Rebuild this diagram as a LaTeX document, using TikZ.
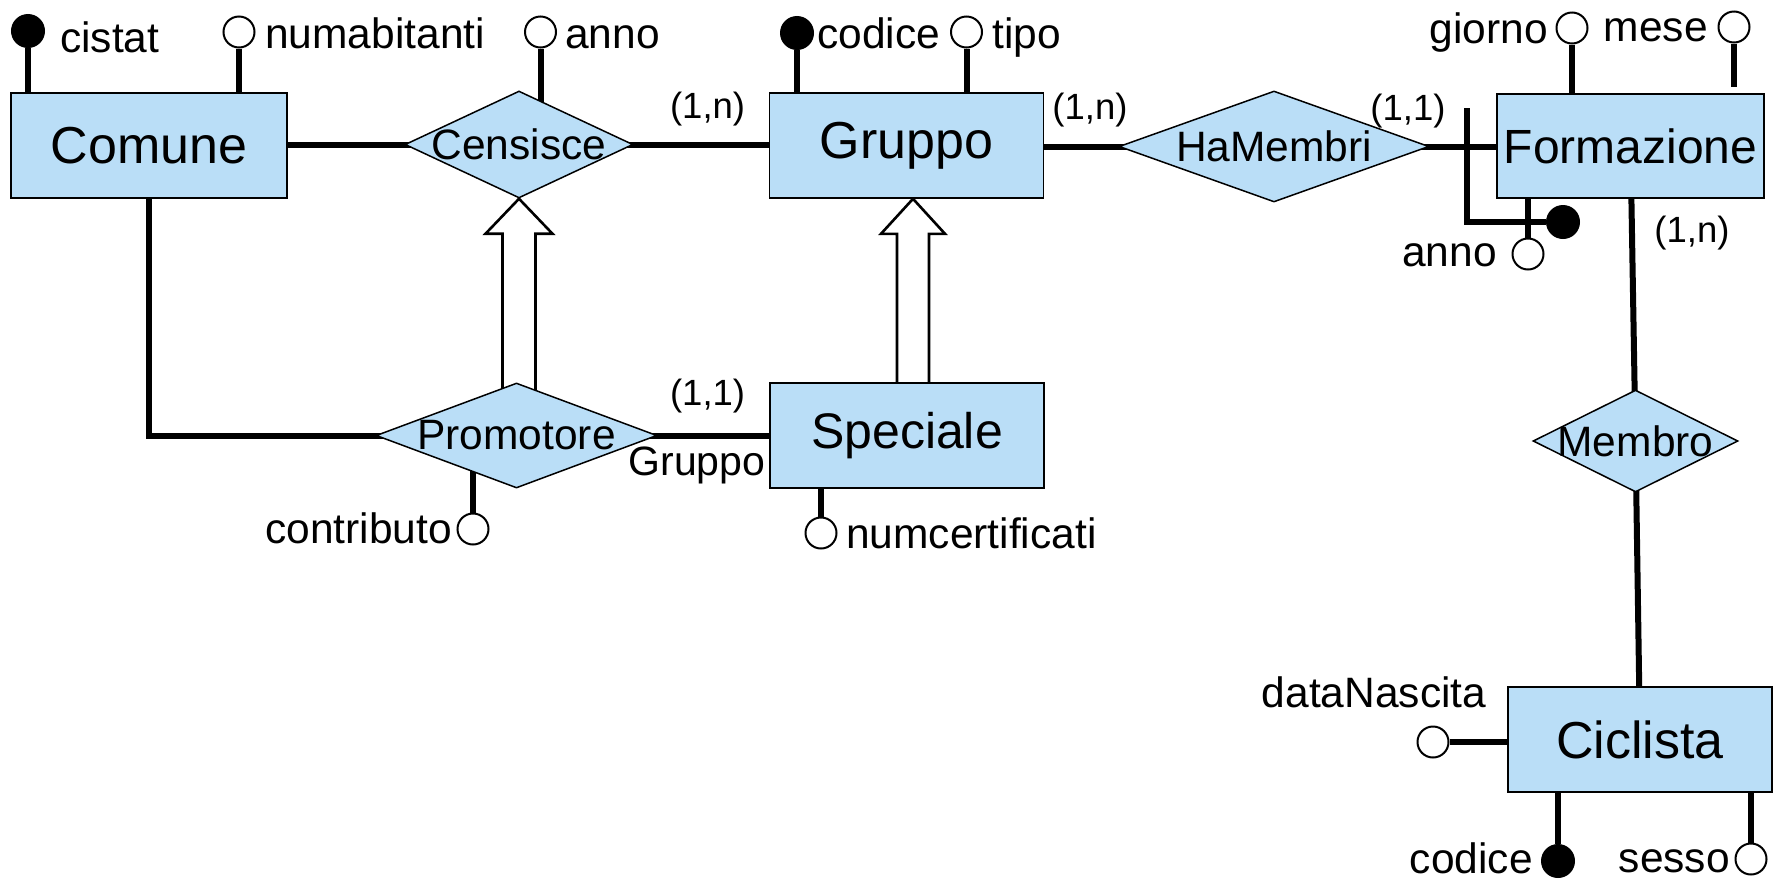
\documentclass[tikz,border=0pt]{standalone}
\usepackage{fontspec}
\setmainfont{Liberation Sans}
\usetikzlibrary{shapes.geometric,backgrounds,calc}
\definecolor{erblue}{RGB}{186,222,247}
\newcommand{\entfont}{\fontsize{52}{56}\selectfont}
\newcommand{\relfont}{\fontsize{42.5}{46}\selectfont}
\newcommand{\cardfont}{\fontsize{36.5}{40}\selectfont}
\begin{document}
\begin{tikzpicture}[x=1pt,y=-1pt,
  entity/.style={rectangle, draw=black, line width=1.6pt, fill=erblue,
    inner sep=0pt, font=\entfont},
  relation/.style={diamond, draw=black, line width=1.5pt, fill=erblue,
    inner sep=0pt, label={[font=\relfont, inner sep=0pt]center:#1}},
  attr/.style={circle, draw=black, line width=2pt, fill=white,
    minimum size=31pt, inner sep=0pt},
  keyattr/.style={attr, fill=black, minimum size=32pt},
  lab/.style={font=\relfont, inner sep=0pt},
  card/.style={font=\cardfont, inner sep=0pt},
  conn/.style={line width=6pt},
  gen/.style={line width=2.6pt, line join=miter},
]
\useasboundingbox (0,0) rectangle (1781,879);

% entities
\node[entity, minimum width=276pt, minimum height=105pt] (Comune) at (149,145.5) {Comune};
\node[entity, minimum width=274pt, minimum height=105pt] (Gruppo) at (906.5,145.5) {Gruppo};
\node[entity, minimum width=267pt, minimum height=104pt, font=\fontsize{48}{52}\selectfont]
  (Formazione) at (1630.5,146) {Formazione};
\node[entity, minimum width=274pt, minimum height=105pt, font=\fontsize{50}{54}\selectfont]
  (Speciale) at (907,435.5) {Speciale};
\node[entity, minimum width=264pt, minimum height=105pt] (Ciclista) at (1640,739.5) {Ciclista};

% relationships
\node[relation=Censisce, minimum width=228pt, minimum height=107pt] (Censisce) at (519,144.5) {};
\node[relation=HaMembri, minimum width=310pt, minimum height=111pt] (HaMembri) at (1274,146.5) {};
\node[relation=Promotore, minimum width=281pt, minimum height=105pt] (Promotore) at (516.5,435.5) {};
\node[relation=Membro, minimum width=205pt, minimum height=102pt] (Membro) at (1635.5,441) {};

% attributes of Comune
\node[keyattr] (kCistat) at (28,31) {};
\node[lab, anchor=base west] (lCistat) at (60,52) {cistat};
\node[attr] (aNumab) at (239,32) {};
\node[lab, anchor=base west] (lNumab) at (265,48) {numabitanti};

% attribute of Censisce
\node[attr] (aAnnoC) at (540.5,32) {};
\node[lab, anchor=base west] (lAnnoC) at (565,48) {anno};

% attributes of Gruppo
\node[keyattr] (kCodG) at (797,33) {};
\node[lab, anchor=base west] (lCodG) at (817,48) {codice};
\node[attr] (aTipo) at (966.5,32) {};
\node[lab, anchor=base west] (lTipo) at (992,48) {tipo};

% attributes of Formazione
\node[attr] (aGiorno) at (1572,28) {};
\node[lab, anchor=base east] (lGiorno) at (1548,43) {giorno};
\node[attr] (aMese) at (1734,27) {};
\node[lab, anchor=base east] (lMese) at (1708,41) {mese};
\node[attr] (aAnnoF) at (1528,254) {};
\node[lab, anchor=base east] (lAnnoF) at (1497,266) {anno};
\node[keyattr] (kForm) at (1563,222) {};
\coordinate (idTop) at (1467,108);

% attribute of Promotore
\node[attr] (aContr) at (473,529) {};
\node[lab, anchor=base east] (lContr) at (452,543) {contributo};

% attribute of Speciale
\node[attr] (aNumc) at (821,533) {};
\node[lab, anchor=base west] (lNumc) at (846,548) {numcertificati};

% attributes of Ciclista
\node[attr] (aDataN) at (1433,742) {};
\node[lab, anchor=base] (lDataN) at (1374,707) {dataNascita};
\node[keyattr] (kCodC) at (1558,861) {};
\node[lab, anchor=base east] (lCodC) at (1533,873) {codice};
\node[attr] (aSesso) at (1751,859) {};
\node[lab, anchor=base east] (lSesso) at (1730,872) {sesso};

% cardinalities and role
\node[card] (c1) at (707.6,109) {(1,n)};
\node[card] (c2) at (1090,110) {(1,n)};
\node[card] (c3) at (1408,111) {(1,1)};
\node[card] (c4) at (707.6,396) {(1,1)};
\node[card] (c5) at (1692,233) {(1,n)};
\node[lab, font=\fontsize{41}{44}\selectfont, anchor=base] (rGruppo) at (697,475) {Gruppo};

\begin{pgfonlayer}{background}
  % relationship links
  \draw[conn] (Censisce.center) -- (Censisce.center -| Comune.center);
  \draw[conn] (Censisce.center) -- (Censisce.center -| Gruppo.center);
  \draw[conn] (Gruppo.center |- HaMembri.center) -- (HaMembri.center);
  \draw[conn] (HaMembri.center) -- (HaMembri.center -| Formazione.center);
  \draw[conn] (Comune.center) |- (Promotore.center);
  \draw[conn] (Promotore.center) -- (Speciale.center);
  \draw[conn] (Formazione.center) -- (Membro.center);
  \draw[conn] (Membro.center) -- (Ciclista.center);

  % attribute stems
  \draw[conn] (kCistat) -- (kCistat |- Comune.center);
  \draw[conn] (aNumab) -- (aNumab |- Comune.center);
  \draw[conn] (aAnnoC) -- (aAnnoC |- Censisce.center);
  \draw[conn] (kCodG) -- (kCodG |- Gruppo.center);
  \draw[conn] (aTipo) -- (aTipo |- Gruppo.center);
  \draw[conn] (aGiorno) -- (aGiorno |- Formazione.center);
  \coordinate (meseEnd) at ($(aMese |- Formazione.north)+(0,-6)$);
  \draw[conn] (aMese) -- (meseEnd);
  \draw[conn] (aAnnoF) -- (aAnnoF |- Formazione.center);
  \draw[conn] (aContr) -- (aContr |- Promotore.center);
  \draw[conn] (aNumc) -- (aNumc |- Speciale.center);
  \draw[conn] (aDataN) -- (aDataN -| Ciclista.center);
  \draw[conn] (kCodC) -- (kCodC |- Ciclista.center);
  \draw[conn] (aSesso) -- (aSesso |- Ciclista.center);

  % external identifier of Formazione
  \draw[conn] (idTop) |- (kForm);

  % generalisations
  \path (Censisce.south) ++(-16.5,35) coordinate (g1l) ++(33,0) coordinate (g1r);
  \draw[gen] (g1l |- Promotore.center) -- (g1l) -- ++(-17,0) -- (Censisce.south)
    -- ($(g1r)+(17,0)$) -- (g1r) -- (g1r |- Promotore.center);
  \path ($(Gruppo.south)+(6.5,0)$) coordinate (t2) ++(-16,35) coordinate (g2l)
    ++(32,0) coordinate (g2r);
  \draw[gen] (g2l |- Speciale.center) -- (g2l) -- ++(-16,0) -- (t2)
    -- ($(g2r)+(16,0)$) -- (g2r) -- (g2r |- Speciale.center);
\end{pgfonlayer}
\end{tikzpicture}
\end{document}
